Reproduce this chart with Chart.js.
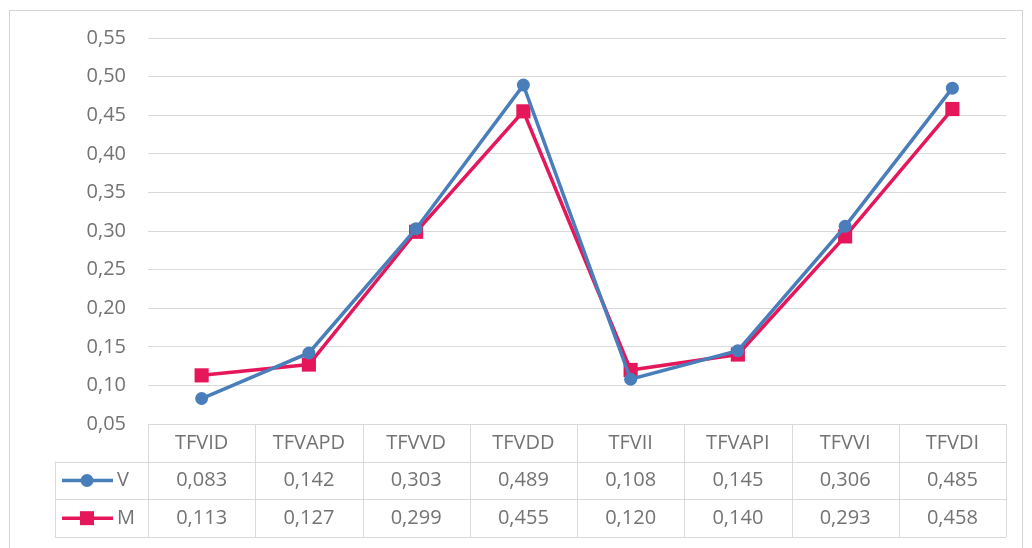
<!DOCTYPE html>
<html>
<head>
<meta charset="utf-8">
<script src="https://cdn.jsdelivr.net/npm/chart.js@4/dist/chart.umd.min.js"></script>
<style>
  html, body { margin: 0; padding: 0; background: #fff; }
  #wrap { width: 1032px; height: 548px; position: relative; }
</style>
</head>
<body>
<div id="wrap"><canvas id="c" width="1032" height="548"></canvas></div>
<script>
// Categories and series values
const categories = ['TFVID', 'TFVAPD', 'TFVVD', 'TFVDD', 'TFVII', 'TFVAPI', 'TFVVI', 'TFVDI'];
const seriesV = [0.083, 0.142, 0.303, 0.489, 0.108, 0.145, 0.306, 0.485];
const seriesM = [0.113, 0.127, 0.299, 0.455, 0.120, 0.140, 0.293, 0.458];
const seriesNames = ['V', 'M'];
const yMin = 0.05, yMax = 0.55, yStep = 0.05;

const BLUE = '#4a7ebb';
const PINK = '#e5175a';
const GRID = '#d9d9d9';
const TEXT = '#737373';
const FONT = "'Open Sans', sans-serif";
const FONT_SIZE = 20;

const fmt = (v, d) => v.toFixed(d).replace('.', ',');

// Data table under the plot, with legend keys in the first column
const dataTable = {
  id: 'dataTable',
  afterDraw(chart) {
    const ctx = chart.ctx;
    const xs = chart.scales.x;
    const area = chart.chartArea;
    const n = categories.length;
    const step = (area.right - area.left) / n;
    const top = area.bottom;
    const rowH = (xs.bottom - xs.top) / 3;
    const keyLeft = 55;

    ctx.save();
    ctx.strokeStyle = GRID;
    ctx.lineWidth = 1;
    ctx.beginPath();
    // horizontal rules
    ctx.moveTo(area.left, top + 0.5); ctx.lineTo(area.right, top + 0.5);
    for (let r = 1; r <= 3; r++) {
      const y = Math.round(top + r * rowH) + 0.5;
      ctx.moveTo(keyLeft, y); ctx.lineTo(area.right, y);
    }
    // vertical rules
    for (let i = 0; i <= n; i++) {
      const x = Math.round(xs.getPixelForValue(i) - step / 2) + 0.5;
      ctx.moveTo(x, top); ctx.lineTo(x, top + 3 * rowH);
    }
    ctx.moveTo(keyLeft + 0.5, top + rowH); ctx.lineTo(keyLeft + 0.5, top + 3 * rowH);
    ctx.stroke();

    ctx.fillStyle = TEXT;
    ctx.font = FONT_SIZE + 'px ' + FONT;
    ctx.textAlign = 'center';
    ctx.textBaseline = 'middle';
    const rows = [seriesV, seriesM];
    for (let i = 0; i < n; i++) {
      const cx = xs.getPixelForValue(i);
      ctx.fillText(categories[i], cx, top + rowH * 0.5);
      rows.forEach((vals, r) => {
        ctx.fillText(fmt(vals[i], 3), cx, top + rowH * (r + 1.5));
      });
    }

    // legend keys
    chart.data.datasets.forEach((ds, r) => {
      const cy = top + rowH * (r + 1.5);
      ctx.strokeStyle = ds.borderColor;
      ctx.lineWidth = ds.borderWidth;
      ctx.beginPath();
      ctx.moveTo(62, cy); ctx.lineTo(113, cy);
      ctx.stroke();
      ctx.fillStyle = ds.borderColor;
      if (ds.pointStyle === 'circle') {
        ctx.beginPath(); ctx.arc(87, cy, 6.5, 0, Math.PI * 2); ctx.fill();
      } else {
        ctx.fillRect(80, cy - 7, 14, 14);
      }
      ctx.fillStyle = TEXT;
      ctx.textAlign = 'left';
      ctx.fillText(seriesNames[r], 117, cy);
    });

    // chart frame
    ctx.strokeStyle = '#d4d4d4';
    ctx.lineWidth = 1;
    ctx.strokeRect(9.5, 10.5, 1013, 560);
    ctx.restore();
  }
};

new Chart(document.getElementById('c'), {
  type: 'line',
  data: {
    labels: categories,
    datasets: [
      {
        label: seriesNames[0], data: seriesV,
        borderColor: BLUE, backgroundColor: BLUE, borderWidth: 3.5,
        pointStyle: 'circle', pointRadius: 6.5, pointBorderWidth: 0,
        pointBackgroundColor: BLUE, tension: 0
      },
      {
        label: seriesNames[1], data: seriesM,
        borderColor: PINK, backgroundColor: PINK, borderWidth: 3.5,
        pointStyle: 'rect', pointRadius: 10, pointBorderWidth: 0,
        pointBackgroundColor: PINK, tension: 0
      }
    ]
  },
  options: {
    responsive: false,
    animation: false,
    layout: { padding: { top: 38, right: 26, bottom: 11, left: 0 } },
    plugins: { legend: { display: false }, tooltip: { enabled: false } },
    scales: {
      x: {
        offset: true,
        grid: { display: false },
        border: { display: false },
        ticks: { display: false },
        afterFit(s) { s.height = 113; }
      },
      y: {
        min: yMin, max: yMax,
        grid: { color: GRID, lineWidth: 1, drawTicks: false },
        border: { display: false },
        ticks: {
          stepSize: yStep, padding: 22, color: TEXT,
          font: { family: FONT, size: FONT_SIZE },
          callback: v => fmt(v, 2)
        },
        afterFit(s) { s.width = 148; }
      }
    }
  },
  plugins: [dataTable]
});
</script>
</body>
</html>
